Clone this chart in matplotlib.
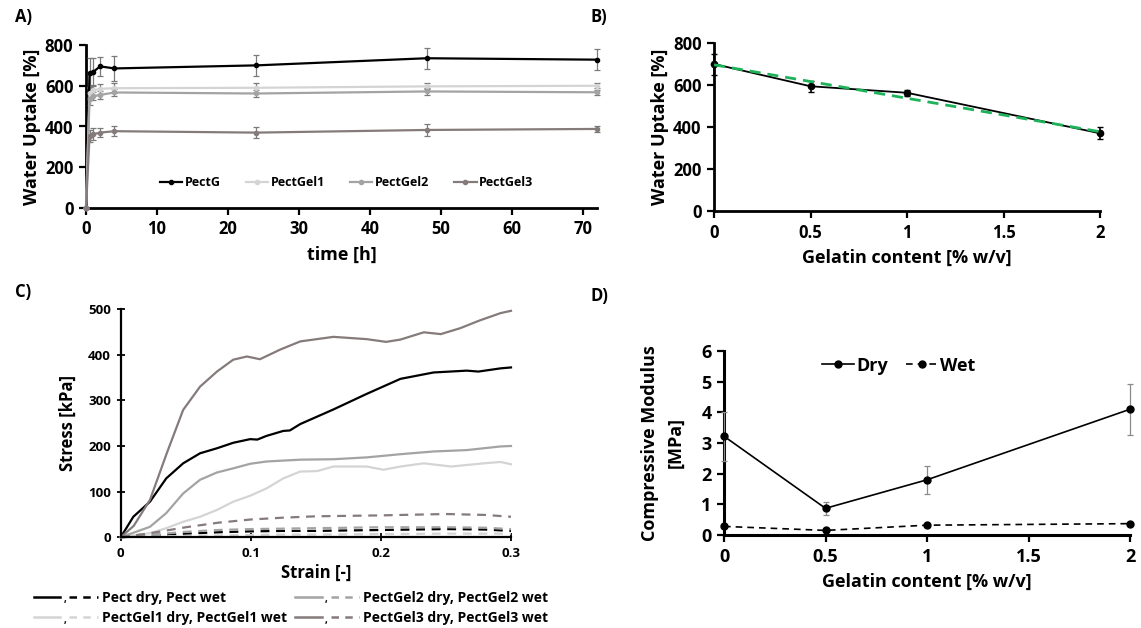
import numpy as np
import matplotlib
matplotlib.use("Agg")
import matplotlib.pyplot as plt
from matplotlib.lines import Line2D
from matplotlib.legend_handler import HandlerBase

plt.rcParams['font.family'] = ['Open Sans', 'DejaVu Sans']
plt.rcParams['font.weight'] = 'bold'

# ---------------- Panel A data ----------------
time_h = [0, 0.5, 1, 2, 4, 24, 48, 72]
a_names = ["PectG", "PectGel1", "PectGel2", "PectGel3"]
a_pectg = [0, 665, 668, 695, 685, 700, 735, 728]
a_pectg_err = [0, 70, 70, 45, 60, 50, 52, 50]
a_gel1 = [0, 565, 578, 585, 588, 590, 597, 600]
a_gel1_err = [0, 25, 25, 25, 25, 25, 15, 12]
a_gel2 = [0, 535, 548, 555, 567, 562, 572, 568]
a_gel2_err = [0, 30, 20, 18, 15, 18, 15, 12]
a_gel3 = [0, 355, 362, 370, 377, 370, 383, 388]
a_gel3_err = [0, 30, 30, 22, 25, 27, 28, 15]

# ---------------- Panel B data ----------------
gel_content = [0, 0.5, 1, 2]
b_uptake = [700, 594, 563, 370]
b_err = [50, 25, 15, 28]

# ---------------- Panel C data ----------------
c_pect_dry_x = [0, 0.0097, 0.0225, 0.035, 0.048, 0.061, 0.074, 0.0865, 0.0995, 0.105, 0.112,
                0.125, 0.13, 0.138, 0.1635, 0.189, 0.215, 0.2405, 0.266, 0.275, 0.292, 0.3]
c_pect_dry_y = [0, 45, 78, 129, 162, 184, 195, 207, 215, 214, 222,
                233, 234, 248, 280, 314, 347, 361, 365, 363, 370, 372]
c_gel1_dry_x = [0, 0.0225, 0.035, 0.048, 0.061, 0.074, 0.0865, 0.0995, 0.112, 0.125, 0.138,
                0.151, 0.1635, 0.189, 0.202, 0.215, 0.233, 0.254, 0.279, 0.292, 0.3]
c_gel1_dry_y = [0, 9, 20, 34, 45, 60, 78, 91, 107, 129, 144,
                145, 155, 155, 148, 155, 162, 155, 162, 165, 160]
c_gel2_dry_x = [0, 0.0225, 0.035, 0.048, 0.061, 0.074, 0.0865, 0.0995, 0.112, 0.138, 0.1635,
                0.189, 0.215, 0.2405, 0.266, 0.292, 0.3]
c_gel2_dry_y = [0, 23, 53, 96, 126, 142, 151, 161, 166, 170, 171,
                175, 182, 188, 191, 199, 200]
c_gel3_dry_x = [0, 0.01, 0.0225, 0.0354, 0.048, 0.061, 0.074, 0.0865, 0.097, 0.102, 0.107,
                0.1225, 0.138, 0.1635, 0.189, 0.204, 0.215, 0.233, 0.246, 0.261, 0.276, 0.292, 0.3]
c_gel3_dry_y = [0, 25, 82, 184, 279, 330, 363, 389, 396, 393, 390,
                411, 429, 439, 434, 428, 433, 449, 445, 458, 475, 491, 496]
c_wet_x = [0, 0.025, 0.05, 0.075, 0.1, 0.125, 0.15, 0.2, 0.25, 0.28, 0.3]
c_pect_wet_y = [0, 4, 8, 11, 13, 14, 14, 16, 18, 17, 14]
c_gel1_wet_y = [0, 2, 3, 4, 5, 6, 6, 7, 8, 8, 8]
c_gel2_wet_y = [0, 6, 12, 16, 18, 19, 20, 22, 22, 21, 18]
c_gel3_wet_y = [0, 10, 22, 32, 39, 43, 46, 48, 51, 49, 45]
c_labels = ["Pect dry, Pect wet", "PectGel1 dry, PectGel1 wet",
            "PectGel2 dry, PectGel2 wet", "PectGel3 dry, PectGel3 wet"]

# ---------------- Panel D data ----------------
d_dry = [3.22, 0.87, 1.80, 4.10]
d_dry_err = [0.8, 0.21, 0.46, 0.83]
d_wet = [0.28, 0.15, 0.32, 0.37]
d_wet_err = [0.03, 0.02, 0.04, 0.03]

COL = ["#000000", "#d4d4d4", "#a3a3a3", "#857b7b"]
ECOL = "#7a7a7a"

fig = plt.figure(figsize=(11.41, 6.28), dpi=100)


def style_axes(ax, lw=2.0):
    for s in ["top", "right"]:
        ax.spines[s].set_visible(False)
    ax.spines["left"].set_linewidth(lw)
    ax.spines["bottom"].set_linewidth(lw)
    ax.tick_params(width=1.6, length=5, direction="out", pad=4)


# ---------------- A ----------------
axA = fig.add_axes([86 / 1141, 1 - 208 / 628, 511 / 1141, 163 / 628])
a_series = [(a_pectg, a_pectg_err), (a_gel1, a_gel1_err), (a_gel2, a_gel2_err), (a_gel3, a_gel3_err)]
a_handles = []
for (vals, err), c, n in zip(a_series, COL, a_names):
    axA.errorbar(time_h, vals, yerr=err, color=c, ecolor=ECOL, elinewidth=0.9, capsize=2.5,
                 capthick=0.9, lw=1.6, marker="o", ms=3, clip_on=False, zorder=3)
    a_handles.append(Line2D([], [], color=c, lw=1.6, marker="o", ms=3, label=n))
axA.set_xlim(0, 72)
axA.set_ylim(0, 800)
axA.set_xticks(range(0, 71, 10))
axA.set_yticks(range(0, 801, 200))
style_axes(axA)
axA.tick_params(labelsize=12)
axA.set_xlabel("time [h]", fontsize=13, fontweight="bold", labelpad=5)
axA.set_ylabel("Water Uptake [%]", fontsize=13, fontweight="bold", labelpad=3)
axA.legend(handles=a_handles, loc="center", bbox_to_anchor=(0.51, 0.155), ncol=4, frameon=False,
           prop={"size": 9, "weight": "bold"}, handlelength=1.8, handletextpad=0.2,
           columnspacing=2.0)
fig.text(15 / 1141, 1 - 17 / 628, "A)", fontsize=12, fontweight="bold", va="center")

# ---------------- B ----------------
axB = fig.add_axes([714 / 1141, 1 - 211 / 628, 386 / 1141, 168 / 628])
axB.errorbar(gel_content, b_uptake, yerr=b_err, color="black", ecolor="black", elinewidth=1.2,
             capsize=2, lw=1.3, marker="o", ms=4.5, clip_on=False, zorder=3)
fit = np.polyfit(gel_content, b_uptake, 1)
fx = np.array([gel_content[0], gel_content[-1]])
axB.plot(fx, np.polyval(fit, fx), color="#1db35a", lw=2, ls=(0, (4, 2.5)), zorder=4)
axB.set_xlim(0, 2)
axB.set_ylim(0, 800)
axB.set_xticks([0, 0.5, 1, 1.5, 2])
axB.set_xticklabels(["0", "0.5", "1", "1.5", "2"])
axB.set_yticks(range(0, 801, 200))
style_axes(axB)
axB.tick_params(labelsize=12)
axB.set_xlabel("Gelatin content [% w/v]", fontsize=13, fontweight="bold", labelpad=5)
axB.set_ylabel("Water Uptake [%]", fontsize=13, fontweight="bold", labelpad=3)
fig.text(590 / 1141, 1 - 17 / 628, "B)", fontsize=12, fontweight="bold", va="center")

# ---------------- C ----------------
axC = fig.add_axes([120.7 / 1141, 1 - 537.3 / 628, 390.3 / 1141, 228.3 / 628])
dry = [(c_pect_dry_x, c_pect_dry_y), (c_gel1_dry_x, c_gel1_dry_y),
       (c_gel2_dry_x, c_gel2_dry_y), (c_gel3_dry_x, c_gel3_dry_y)]
wet = [c_pect_wet_y, c_gel1_wet_y, c_gel2_wet_y, c_gel3_wet_y]
for (x, y), c in zip(dry, COL):
    axC.plot(x, y, color=c, lw=1.6, clip_on=False)
for y, c in zip(wet, COL):
    axC.plot(c_wet_x, y, color=c, lw=1.6, ls=(0, (4, 3)), clip_on=False)
axC.set_xlim(0, 0.3)
axC.set_ylim(0, 500)
axC.set_xticks([0, 0.1, 0.2, 0.3])
axC.set_xticklabels(["0", "0.1", "0.2", "0.3"])
axC.set_yticks(range(0, 501, 100))
style_axes(axC, lw=1.6)
axC.tick_params(labelsize=9.5, direction="inout", length=6, width=1.3)
axC.set_xlabel("Strain [-]", fontsize=12, fontweight="bold", labelpad=3)
axC.set_ylabel("Stress [kPa]", fontsize=12, fontweight="bold", labelpad=8)
fig.text(15 / 1141, 1 - 292 / 628, "C)", fontsize=12, fontweight="bold", va="center")


class DryWetHandler(HandlerBase):
    def create_artists(self, legend, orig_handle, xdescent, ydescent, width, height, fontsize, trans):
        c = orig_handle.get_color()
        y = height / 2 - ydescent
        w = width
        solid = Line2D([-xdescent, -xdescent + 0.42 * w], [y, y], color=c, lw=1.8)
        dashed = Line2D([-xdescent + 0.56 * w, -xdescent + w], [y, y], color=c, lw=1.8,
                        ls=(0, (3, 2.5)))
        comma = matplotlib.text.Text(-xdescent + 0.49 * w, y - 2, ",", fontsize=7,
                                     color="black", ha="center", va="center")
        for a in (solid, dashed, comma):
            a.set_transform(trans)
        return [solid, comma, dashed]


c_handles = [Line2D([], [], color=c) for c in COL]
fig.legend(c_handles, c_labels, handler_map={Line2D: DryWetHandler()},
           loc="center", bbox_to_anchor=(291 / 1141, 1 - 608 / 628), ncol=2, frameon=False,
           prop={"size": 10, "weight": "bold"}, handlelength=4.6, handletextpad=0.3,
           columnspacing=0.6, labelspacing=0.45)

# ---------------- D ----------------
axD = fig.add_axes([724 / 1141, 1 - 535 / 628, 406 / 1141, 184 / 628])
axD.errorbar(gel_content, d_dry, yerr=d_dry_err, color="black", ecolor="#8a8a8a", elinewidth=0.9,
             capsize=2.5, capthick=0.9, lw=1.2, marker="o", ms=5, clip_on=False, zorder=3)
axD.errorbar(gel_content, d_wet, yerr=d_wet_err, color="black", ecolor="#8a8a8a", elinewidth=0.9,
             capsize=2.5, capthick=0.9, lw=1.2, ls=(0, (4, 3)), marker="o", ms=5,
             clip_on=False, zorder=3)
d_handles = [Line2D([], [], color="black", lw=1.2, marker="o", ms=5, label="Dry"),
             Line2D([], [], color="black", lw=1.2, ls=(0, (4, 3)), marker="o", ms=5, label="Wet")]
axD.set_xlim(0, 2)
axD.set_ylim(0, 6)
axD.set_xticks([0, 0.5, 1, 1.5, 2])
axD.set_xticklabels(["0", "0.5", "1", "1.5", "2"])
axD.set_yticks(range(0, 7))
style_axes(axD, lw=2.2)
axD.tick_params(labelsize=13)
axD.set_xlabel("Gelatin content [% w/v]", fontsize=13, fontweight="bold", labelpad=5)
axD.set_ylabel("Compressive Modulus\n[MPa]", fontsize=13, fontweight="bold", labelpad=12,
               linespacing=1.5)
axD.legend(handles=d_handles, loc="center", bbox_to_anchor=(0.43, 0.92), ncol=2, frameon=False,
           prop={"size": 13, "weight": "bold"}, handlelength=1.8, handletextpad=0.1,
           columnspacing=1.0)
fig.text(590 / 1141, 1 - 296 / 628, "D)", fontsize=12, fontweight="bold", va="center")

fig.savefig("out.png", dpi=100)
